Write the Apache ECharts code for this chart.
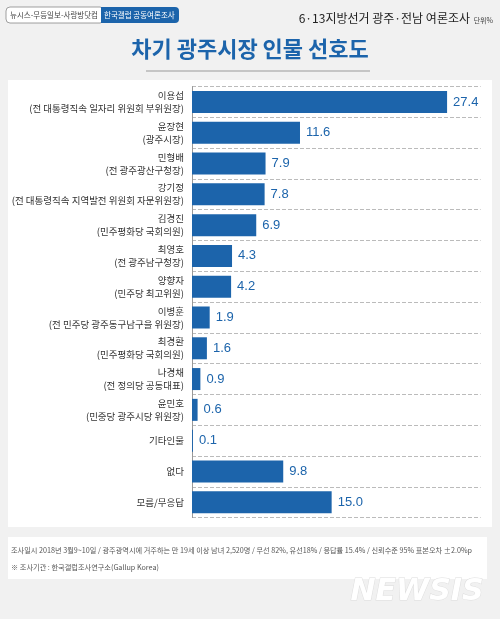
<!DOCTYPE html><html><head><meta charset="utf-8">
<script src="https://cdn.jsdelivr.net/npm/echarts@6/dist/echarts.min.js"></script>
<style>body{margin:0;background:#f1f1f1;}#c{width:500px;height:619px;}</style></head><body><div id="c"></div>
<script>
const categories=['이용섭\n(전 대통령직속 일자리 위원회 부위원장)','윤장현\n(광주시장)','민형배\n(전 광주광산구청장)','강기정\n(전 대통령직속 지역발전 위원회 자문위원장)','김경진\n(민주평화당 국회의원)','최영호\n(전 광주남구청장)','양향자\n(민주당 최고위원)','이병훈\n(전 민주당 광주동구남구을 위원장)','최경환\n(민주평화당 국회의원)','나경채\n(전 정의당 공동대표)','윤민호\n(민중당 광주시당 위원장)','기타인물','없다','모름/무응답'];
const values=[27.4,11.6,7.9,7.8,6.9,4.3,4.2,1.9,1.6,0.9,0.6,0.1,9.8,15.0];
const blue='#1c64ab';
const chart=echarts.init(document.getElementById('c'));
chart.setOption({
 animation:false,
 graphic:[
  {type:'rect',shape:{x:8,y:80,width:484,height:447},style:{fill:'#fff'}},
  {type:'rect',shape:{x:8,y:537,width:479,height:42},style:{fill:'#fff'}},
  {type:'rect',shape:{x:6,y:7,width:98,height:16,r:4},style:{fill:'#fff',stroke:'#888',lineWidth:0.8}},
  {type:'rect',shape:{x:101,y:7,width:78,height:16,r:[0,4,4,0]},style:{fill:blue}},
  {type:'text',left:10,top:11,style:{text:'뉴시스-무등일보-사랑방닷컴',font:'7.5px "Noto Sans CJK KR"',fill:'#444'}},
  {type:'text',left:104,top:11,style:{text:'한국갤럽 공동여론조사',font:'7.5px "Noto Sans CJK KR"',fill:'#fff'}},
  {type:'text',right:30,top:12,style:{text:'6·13지방선거 광주·전남 여론조사',font:'12px "Noto Sans CJK KR"',fill:'#222'}},
  {type:'text',right:7,top:17,style:{text:'단위%',font:'7px "Noto Sans CJK KR"',fill:'#444'}},
  {type:'text',left:'center',top:38,style:{text:'차기 광주시장 인물 선호도',font:'bold 22px "Noto Sans CJK KR"',fill:blue}},
  {type:'line',shape:{x1:146,y1:71,x2:370,y2:71},style:{stroke:'#999',lineWidth:1}},
  {type:'text',left:11,top:547,style:{text:'조사일시 2018년 3월9~10일 / 광주광역시에 거주하는 만 19세 이상 남녀 2,520명 / 무선 82%, 유선18% / 응답률 15.4% / 신뢰수준 95% 표본오차 ±2.0%p',font:'7.2px "Noto Sans CJK KR"',fill:'#555'}},
  {type:'text',left:11,top:564,style:{text:'※ 조사기관 : 한국갤럽조사연구소(Gallup Korea)',font:'7.2px "Noto Sans CJK KR"',fill:'#555'}},
  {type:'text',left:350,top:577,style:{text:'NEWSIS',font:'italic bold 30px "DejaVu Sans"',fill:'#fff',stroke:'#ddd',lineWidth:1}}
 ],
 grid:{left:192,top:86.6,width:288.6,height:431},
 xAxis:{type:'value',min:0,max:31,show:false},
 yAxis:{type:'category',inverse:true,data:categories,
  axisLine:{lineStyle:{color:'#999'}},axisTick:{show:false},
  axisLabel:{color:'#333',fontSize:9.5,lineHeight:13,margin:8,fontFamily:'Noto Sans CJK KR'},
  splitLine:{show:true,lineStyle:{type:'dashed',color:'#bbb'}}},
 series:[{type:'bar',data:values,barWidth:22,itemStyle:{color:blue},
  label:{show:true,position:'right',color:blue,fontSize:13,distance:6,formatter:p=>p.value.toFixed(1)}}]
});
</script></body></html>
